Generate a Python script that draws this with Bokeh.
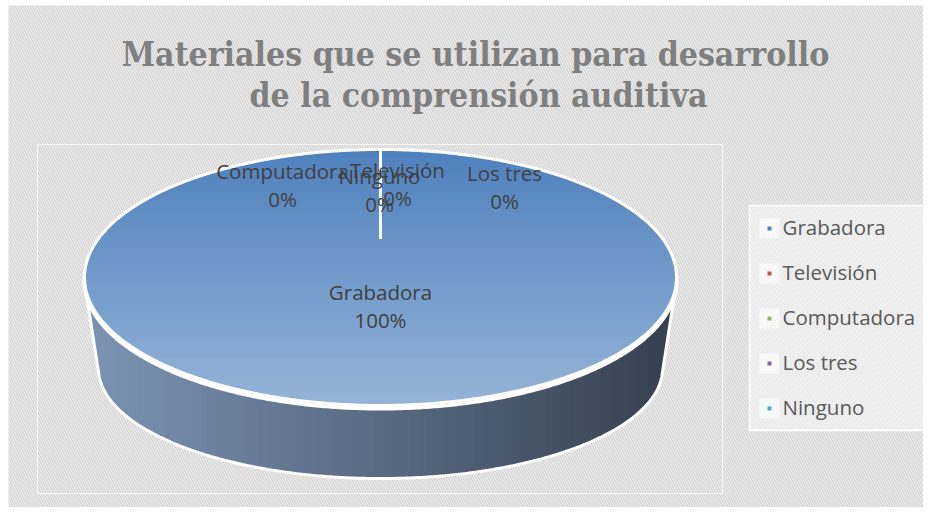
import numpy as np
from bokeh.plotting import figure
from bokeh.models import Range1d
from bokeh.core.properties import value
from bokeh.embed import file_html
from bokeh.resources import INLINE

# ---------------- data ----------------
categories = ["Grabadora", "Televisión", "Computadora", "Los tres", "Ninguno"]
percentages = [100, 0, 0, 0, 0]
slice_colors = ["#4f81bd", "#c0504d", "#9bbb59", "#8064a2", "#4bacc6"]
title_lines = ["Materiales que se utilizan para desarrollo",
               "de la comprensión auditiva"]

# ---------------- layout / style ----------------
W, H = 923, 507
TEXT_DY = -8.5   # baseline correction for svg text

TOP_CX, TOP_CY, TOP_RX, TOP_RY = 380.0, 277.0, 296.0, 128.0
APEX_X, APEX_Y = 380.0, 238.0
BOT_CX, BOT_CY, BOT_RX, BOT_RY = 380.0, 368.0, 282.0, 110.0
LABEL_FRAC = 0.42
label_offsets = [(0, 0), (17, -14.5), (-98, -14), (124, -12), (-1, -9)]
SIDE_LEFT = (124, 148, 180)
SIDE_RIGHT = (54, 64, 80)
LABEL_FONT = "Open Sans"


def hex2rgb(h):
    return tuple(int(h[i:i + 2], 16) for i in (1, 3, 5))


def rgb2hex(c):
    return "#%02x%02x%02x" % tuple(int(round(max(0, min(255, v)))) for v in c)


def tint(h, t):
    return rgb2hex([c + (255 - c) * t for c in hex2rgb(h)])


def clip_h(poly, y0, keep_above):
    out = []
    n = len(poly)
    for k in range(n):
        P = poly[k]
        Q = poly[(k + 1) % n]
        inP = P[1] >= y0 if keep_above else P[1] <= y0
        inQ = Q[1] >= y0 if keep_above else Q[1] <= y0
        if inP:
            out.append(P)
        if inP != inQ:
            s = (y0 - P[1]) / (Q[1] - P[1])
            out.append((P[0] + s * (Q[0] - P[0]), y0))
    return out


p = figure(width=W, height=H,
           x_range=Range1d(0, W), y_range=Range1d(H, 0),
           x_axis_location=None, y_axis_location=None,
           output_backend="svg", toolbar_location=None, min_border=0)
p.grid.visible = False
p.outline_line_color = None
p.background_fill_color = "white"
p.border_fill_color = "white"

# hatched chart background
p.quad(left=[8], right=[W + 10], top=[5], bottom=[512],
       fill_color="#f6f6f6", line_color=None,
       hatch_pattern="left_diagonal_line", hatch_color="#d6d6d6",
       hatch_scale=5, hatch_weight=1.6)
# plot area frame
p.quad(left=[37], right=[722], top=[144], bottom=[493], fill_alpha=0,
       line_color="white", line_alpha=0.8, line_width=1)

# ---------- pie side (extrusion) ----------
t = np.linspace(0, 2 * np.pi, 721)
top_x = TOP_CX + TOP_RX * np.sin(t)
top_y = TOP_CY - TOP_RY * np.cos(t)
bot_x = BOT_CX + BOT_RX * np.sin(t)
bot_y = BOT_CY - BOT_RY * np.cos(t)
pts = sorted(zip(np.r_[top_x, bot_x], np.r_[top_y, bot_y]))
chain = []
for q in pts:
    while len(chain) >= 2:
        o, a = chain[-2], chain[-1]
        cr = (a[0] - o[0]) * (q[1] - o[1]) - (a[1] - o[1]) * (q[0] - o[0])
        if cr >= 0:
            chain.pop()
        else:
            break
    chain.append(q)
ch_x = np.array([c[0] for c in chain])
ch_y = np.array([c[1] for c in chain])

x_left, x_right = TOP_CX - TOP_RX, TOP_CX + TOP_RX
edges = np.arange(x_left, x_right + 0.01, 3.0)
if edges[-1] < x_right:
    edges = np.r_[edges, x_right]
sxs, sys_, scol = [], [], []
for x0, x1 in zip(edges[:-1], edges[1:]):
    x1b = min(x1 + 0.6, x_right)
    y0b = float(np.interp(x0, ch_x, ch_y))
    y1b = float(np.interp(x1b, ch_x, ch_y))
    sxs.append([x0, x1b, x1b, x0])
    sys_.append([TOP_CY, TOP_CY, y1b, y0b])
    f = ((x0 + x1) / 2 - x_left) / (x_right - x_left)
    scol.append(rgb2hex([SIDE_LEFT[k] + (SIDE_RIGHT[k] - SIDE_LEFT[k]) * f for k in range(3)]))
p.patches(xs=sxs, ys=sys_, fill_color=scol, line_color=scol, line_width=0.6)
p.line(ch_x, ch_y, line_color="white", line_width=3)
# white rim between top face and side
p.line(top_x, top_y + 3, line_color="white", line_width=4)

# ---------- top face slices ----------
total = float(sum(percentages))
cum = np.cumsum([0] + percentages) / total
slice_xs, slice_ys = [], []
for i in range(len(categories)):
    a0, a1 = cum[i] * 2 * np.pi, cum[i + 1] * 2 * np.pi
    n = max(2, int(abs(a1 - a0) / (2 * np.pi) * 720) + 2)
    tt = np.linspace(a0, a1, n)
    slice_xs.append([APEX_X] + list(TOP_CX + TOP_RX * np.sin(tt)))
    slice_ys.append([APEX_Y] + list(TOP_CY - TOP_RY * np.cos(tt)))

p.patches(xs=slice_xs, ys=slice_ys, fill_color=slice_colors, line_color=None)

# shading bands (lighter towards the front)
y_top, y_bot = TOP_CY - TOP_RY, TOP_CY + TOP_RY
bedges = np.arange(y_top, y_bot + 0.01, 2.0)
bxs, bys, bcol = [], [], []
for i in range(len(categories)):
    if percentages[i] <= 0:
        continue
    poly = list(zip(slice_xs[i], slice_ys[i]))
    for y0, y1 in zip(bedges[:-1], bedges[1:]):
        piece = clip_h(clip_h(poly, y0, True), y1 + 0.5, False)
        if len(piece) < 3:
            continue
        bxs.append([q[0] for q in piece])
        bys.append([q[1] for q in piece])
        f = ((y0 + y1) / 2 - y_top) / (y_bot - y_top)
        bcol.append(tint(slice_colors[i], 0.40 * f))
p.patches(xs=bxs, ys=bys, fill_color=bcol, line_color=bcol, line_width=0.4)

# slice outlines
p.multi_line(xs=[xs + [xs[0]] for xs in slice_xs], ys=[ys + [ys[0]] for ys in slice_ys],
             line_color="white", line_width=3, line_join="round")

# ---------- data labels ----------
lab_x, lab_y1, lab_y2, lab_t1, lab_t2 = [], [], [], [], []
for i, cat in enumerate(categories):
    mid = (cum[i] + cum[i + 1]) / 2 * 2 * np.pi
    rx_ = TOP_CX + TOP_RX * np.sin(mid)
    ry_ = TOP_CY - TOP_RY * np.cos(mid)
    ax = APEX_X + LABEL_FRAC * (rx_ - APEX_X) + label_offsets[i][0]
    ay = APEX_Y + LABEL_FRAC * (ry_ - APEX_Y) + label_offsets[i][1]
    lab_x.append(ax)
    lab_y1.append(ay - 8 + TEXT_DY)
    lab_y2.append(ay + 20 + TEXT_DY)
    lab_t1.append(cat)
    lab_t2.append("%d%%" % round(percentages[i] / total * 100))
for ys, ts in ((lab_y1, lab_t1), (lab_y2, lab_t2)):
    p.text(x=lab_x, y=ys, text=ts, text_font=value(LABEL_FONT), text_font_size="20.5px",
           text_color="#404040", text_align="center", text_baseline="alphabetic")

# ---------- title ----------
p.text(x=[475, 478], y=[62 + TEXT_DY, 103 + TEXT_DY], text=title_lines,
       text_font=value("DejaVu Serif Condensed"),
       text_font_style="bold", text_font_size="33.5px", text_color="#7f7f7f",
       text_align="center", text_baseline="alphabetic")

# ---------- legend ----------
p.quad(left=[749], right=[927], top=[205], bottom=[430], fill_color="white",
       fill_alpha=0.45, line_color="white", line_width=1.5)
leg_y = [228 + 45 * i for i in range(len(categories))]
p.rect(x=[769] * len(categories), y=leg_y, width=20, height=20, fill_color="white",
       fill_alpha=0.6, line_color=None)
p.rect(x=[769] * len(categories), y=leg_y, width=4, height=4, fill_color=slice_colors,
       line_color=None)
p.text(x=[782] * len(categories), y=[v + 7 + TEXT_DY for v in leg_y], text=categories,
       text_font=value(LABEL_FONT), text_font_size="20.5px", text_color="#595959",
       text_align="left", text_baseline="alphabetic")

open("out.html", "w").write(file_html(p, INLINE))
